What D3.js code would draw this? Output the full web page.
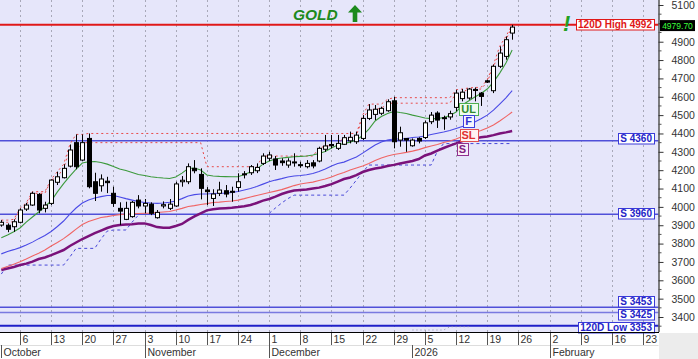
<!DOCTYPE html>
<html><head><meta charset="utf-8">
<script src="https://cdn.jsdelivr.net/npm/d3@7"></script>
<style>body{margin:0;background:#fff;}svg{display:block;font-family:"Liberation Sans",Arial,sans-serif;}</style>
</head><body><svg id="c" width="698" height="359"></svg>
<script>
// ---- DATA (daily, Oct 1 2025 .. Jan 23 2026, weekdays) ----
const openP = [3901,3900,3892,3916,3988,4010,4068,3992,4019,4134,
4159,4222,4350,4255,4373,4137,4115,4140,4074,3992,
3932,3947,4037,4005,4015,3941,4005,3992,4005,4137,
4137,4210,4177,4092,4046,4074,4088,4085,4106,4180,
4186,4197,4237,4265,4261,4250,4228,4241,4230,4219,
4240,4250,4314,4340,4319,4341,4360,4355,4373,4482,
4504,4510,4524,4578,4364,4373,4333,4373,4378,4464,
4511,4486,4490,4542,4590,4593,4640,4620,4687,4633,
4766,4820,4947];
const highP = [3928,3910,3932,3992,4022,4083,4075,4028,4150,4192,
4232,4340,4395,4395,4400,4186,4177,4164,4110,4025,
4028,4032,4064,4043,4025,3983,4030,4043,4137,4168,
4237,4255,4210,4108,4096,4137,4119,4110,4183,4195,
4228,4237,4292,4300,4277,4265,4265,4292,4246,4255,
4255,4328,4392,4392,4392,4392,4410,4410,4500,4560,
4555,4546,4586,4600,4437,4375,4373,4379,4470,4517,
4521,4497,4524,4638,4642,4648,4651,4626,4693,4775,
4875,4929,4992];
const lowP = [3892,3862,3864,3910,3978,4005,3965,3970,4010,4119,
4155,4215,4205,4250,4101,4032,4083,4075,4000,3901,
3928,3941,3992,3965,3955,3936,3992,3983,4000,4110,
4124,4183,4041,4010,4005,4059,4052,4028,4083,4155,
4174,4184,4228,4250,4201,4224,4213,4219,4213,4210,
4210,4243,4300,4319,4310,4337,4346,4343,4364,4473,
4473,4500,4518,4319,4328,4300,4328,4346,4370,4451,
4430,4420,4475,4521,4575,4584,4575,4550,4675,4620,
4757,4802,4911];
const closeP = [3916,3878,3919,3983,4010,4074,3983,4010,4146,4164,
4210,4310,4219,4350,4110,4074,4152,4132,4019,3977,
3992,4025,4005,4019,3965,3970,4012,4015,4125,4145,
4219,4197,4101,4083,4070,4092,4070,4080,4137,4175,
4219,4215,4277,4283,4228,4241,4250,4245,4226,4237,
4223,4319,4332,4333,4346,4377,4379,4391,4482,4528,
4532,4537,4573,4355,4404,4364,4364,4359,4458,4500,
4473,4481,4508,4620,4625,4642,4634,4602,4680,4766,
4838,4911,4979.7];
const ulLine = [3832,3847,3865,3885,3917,3945,3972,4002,4032,4082,
4127,4168,4206,4239,4246,4247,4242,4233,4220,4206,
4198,4187,4176,4171,4164,4160,4157,4155,4163,4184,
4209,4212,4201,4174,4168,4166,4165,4164,4164,4176,
4190,4206,4233,4250,4261,4266,4270,4273,4275,4277,
4283,4291,4302,4321,4337,4345,4353,4364,4389,4424,
4468,4492,4509,4520,4514,4509,4500,4492,4484,4481,
4481,4487,4498,4517,4555,4577,4599,4618,4642,4680,
4729,4784,4855];
const fLine = [3744,3757,3767,3778,3792,3808,3827,3844,3866,3893,
3923,3961,3994,4021,4037,4048,4056,4062,4062,4054,
4045,4037,4029,4024,4021,4019,4021,4025,4032,4045,
4059,4067,4070,4070,4073,4074,4075,4078,4084,4092,
4100,4111,4124,4137,4146,4154,4163,4168,4171,4175,
4182,4193,4206,4223,4236,4244,4258,4272,4293,4315,
4337,4353,4364,4370,4370,4372,4378,4381,4386,4394,
4401,4408,4416,4427,4438,4449,4462,4480,4500,4527,
4560,4594,4633];
const slLine = [3664,3675,3688,3701,3716,3732,3748,3765,3787,3806,
3827,3852,3879,3904,3920,3931,3942,3947,3953,3958,
3961,3962,3964,3965,3966,3969,3972,3975,3983,3992,
4002,4007,4013,4018,4024,4026,4029,4032,4037,4045,
4054,4062,4070,4078,4086,4094,4105,4116,4125,4130,
4135,4144,4152,4163,4176,4187,4201,4212,4223,4236,
4253,4266,4277,4285,4291,4297,4304,4312,4323,4332,
4340,4351,4359,4370,4383,4394,4405,4416,4430,4446,
4468,4492,4517];
const sLine = [3656,3664,3672,3683,3691,3702,3716,3724,3737,3751,
3765,3787,3806,3825,3841,3857,3871,3885,3896,3901,
3904,3906,3909,3910,3901,3890,3886,3886,3896,3907,
3929,3948,3965,3981,3987,3991,3993,3995,3999,4004,
4010,4021,4034,4043,4056,4070,4081,4089,4092,4095,
4100,4105,4114,4124,4138,4152,4160,4173,4190,4201,
4209,4215,4223,4229,4236,4243,4250,4261,4280,4291,
4307,4321,4334,4346,4359,4367,4372,4379,4384,4391,
4400,4406,4413];
const stopLine = [3634,3683,3683,3683,3683,3683,3683,3683,3683,3683,
3683,3727,3774,3774,3774,3774,3825,3868,3874,3874,
3874,3917,3955,null,null,null,null,null,null,null,
null,null,null,null,null,null,null,null,null,null,
null,null,null,3965,3994,4021,4045,4064,4064,4064,
4064,4064,4064,4064,4064,4064,4103,4146,4190,4228,
4228,4228,4228,4228,4228,4228,4228,4228,4228,4228,
4304,4345,4345,4345,4345,4345,4345,4345,4345,4345,
4345,4345,4345];
const hiClose = [3916,3916,3919,3983,4010,4074,4074,4074,4146,4164,
4210,4310,4310,4350,4350,4350,4350,4350,4350,4350,
4350,4350,4350,4350,4350,4350,4350,4350,4350,4350,
4350,4350,4350,4219,4219,4219,4219,4219,4219,4219,
4219,4219,4277,4277,4277,4277,4277,4277,4277,4277,
4277,4319,4332,4333,4346,4377,4379,4391,4482,4528,
4532,4537,4565,4565,4565,4565,4565,4565,4565,4565,
4565,4565,4565,4620,4625,4642,4642,4642,4680,4766,
4838,4911,4979.7];
const hiHigh = [3928,3928,3932,3992,4022,4083,4083,4083,4150,4192,
4232,4340,4395,4395,4400,4400,4400,4400,4400,4400,
4400,4400,4400,4400,4400,4400,4400,4400,4400,4400,
4400,4400,4400,4400,4400,4400,4400,4400,4400,4400,
4400,4400,4400,4400,4400,4400,4400,4400,4400,4400,
4400,4400,4400,4400,4400,4400,4400,4400,4500,4560,
4560,4560,4586,4595,4595,4595,4595,4595,4595,4595,
4595,4595,4595,4638,4642,4648,4651,4651,4693,4775,
4875,4929,4992];
const lowTrail = [null,null,null,null,null,null,null,null,null,null,
null,null,null,null,null,null,null,null,null,null,
null,null,null,null,null,null,null,null,null,null,
null,null,null,null,null,null,null,null,null,null,
null,null,null,null,null,null,null,null,null,null,
null,null,null,null,null,null,null,null,null,null,
null,null,null,null,null,null,3329,3329,3329,3329,
3329,3329,3347,3347,3347,3347,null,null,null,null,
null,null,null];
const levelValues = [4992, 4360, 3960, 3453, 3425, 3353];
const levelLabels = ["120D High 4992", "S 4360", "S 3960", "S 3453", "S 3425", "120D Low 3353"];
const yTickValues = [3400,3500,3600,3700,3800,3900,4000,4100,4200,4300,4400,4500,4600,4700,4800,4900,5000,5100];
const weekLabels = ["6","13","20","27","3","10","17","24","1","8","15","22","29","5","12","19","26","2","9","16","23"];
const monthLabels = ["October","November","December","2026","February"];
const monthStartIdx = [0, 23, 43, 66, 88];
const firstMondayIdx = 3;
const lastPrice = 4979.70;
const title = "GOLD";
const lineNames = ["UL","F","SL","S"];

// ---- LAYOUT ----
const W = 698, H = 359, plotR = 658.5, plotB = 332;
const x = d3.scaleLinear().domain([-0.21, 105.41]).range([0, 658]);
const y = d3.scaleLinear().domain([3318.3, 5121.8]).range([332, 1]);
const svg = d3.select("#c");
svg.append("rect").attr("width", W).attr("height", H).attr("fill", "#fff");
svg.append("rect").attr("x", 659).attr("y", 333).attr("width", 39).attr("height", 26).attr("fill", "#ececec");
svg.append("rect").attr("x", 0).attr("y", 0).attr("width", plotR).attr("height", plotB).attr("fill", "#e6e6fa");
svg.append("clipPath").attr("id", "clip").append("rect").attr("width", plotR).attr("height", plotB);
const g = svg.append("g").attr("clip-path", "url(#clip)");
const idx = d3.range(openP.length);
const px = i => Math.round(x(i)) + 0.5;

// weekly grid
const mondays = weekLabels.map((_, k) => firstMondayIdx + 5 * k);
g.selectAll("line.grid").data(mondays).join("line")
  .attr("x1", px).attr("x2", px).attr("y1", 0).attr("y2", plotB)
  .attr("stroke", "#a8a8b8").attr("stroke-dasharray", "2,3");

// horizontal levels
const levelStroke = ["#e01818", "#5050d8", "#5050d8", "#5050d8", "#7a7ae0", "#2020c8"];
const levelWidth = [2, 1.5, 1.5, 1.5, 1.5, 2];
levelValues.forEach((v, k) => {
  g.append("line").attr("x1", 0).attr("x2", plotR).attr("y1", y(v)).attr("y2", y(v))
    .attr("stroke", levelStroke[k]).attr("stroke-width", levelWidth[k]);
});

const line = arr => d3.line().defined(i => arr[i] != null).x(i => x(i)).y(i => y(arr[i]))(idx);
const addLine = (arr, color, w, dash) => {
  const p = g.append("path").attr("d", line(arr)).attr("fill", "none").attr("stroke", color).attr("stroke-width", w);
  if (dash) p.attr("stroke-dasharray", dash);
};
addLine(lowTrail, "#9090a8", 1, "1,3");
addLine(stopLine, "#4646d8", 1, "3,3");
addLine(hiHigh, "#e84a4a", 1, "2,3");
addLine(hiClose, "#e84a4a", 1, "2,3");
addLine(sLine, "#7a127a", 2.5);
addLine(slLine, "#f06464", 1.1);
addLine(fLine, "#4a4ae6", 1.1);
addLine(ulLine, "#3c9a3c", 1.1);

// candles
g.selectAll("line.wick").data(idx).join("line")
  .attr("x1", px).attr("x2", px).attr("y1", i => y(highP[i])).attr("y2", i => y(lowP[i]))
  .attr("stroke", "#000").attr("stroke-width", 1);
g.selectAll("rect.body").data(idx).join("rect")
  .attr("x", i => Math.round(x(i)) - 1.5)
  .attr("width", 4)
  .attr("y", i => y(Math.max(openP[i], closeP[i])))
  .attr("height", i => Math.max(1, Math.abs(y(openP[i]) - y(closeP[i]))))
  .attr("fill", i => closeP[i] >= openP[i] ? "#fff" : "#000")
  .attr("stroke", "#000").attr("stroke-width", 1);

// indicator name boxes
const indArrays = [ulLine, fLine, slLine, sLine];
const indIdx = [75, 75, 75, 74];
const indDy = [8, -3.5, 0, 8];
const indStroke = ["#4caf50", "#4040e0", "#e05050", "#903090"];
const indFill = ["#eefcee", "#f6f6ff", "#fff2f2", "#f8eef8"];
const indText = ["#2e8b2e", "#3030d0", "#e03030", "#802080"];
lineNames.forEach((nm, k) => {
  const cx = x(indIdx[k]), cy = y(indArrays[k][indIdx[k]]) + indDy[k];
  const gg = svg.append("g");
  const t = gg.append("text").attr("x", cx).attr("y", cy).attr("text-anchor", "middle")
    .attr("dominant-baseline", "central").attr("font-size", 11).attr("font-weight", "bold")
    .attr("fill", indText[k]).text(nm);
  const b = t.node().getBBox();
  gg.insert("rect", "text").attr("x", Math.round(b.x - 2) + 0.5).attr("y", Math.round(cy - 6) + 0.5)
    .attr("width", Math.round(b.width + 4)).attr("height", 12)
    .attr("fill", indFill[k]).attr("stroke", indStroke[k]);
});

// level label boxes
const lvlDy = [0, -2, -1, -6, 2, 1.5];
const lvlText = ["#e01818", "#2424c8", "#2424c8", "#2424c8", "#2424c8", "#2424c8"];
levelValues.forEach((v, k) => {
  const cy = y(v) + lvlDy[k];
  const gg = svg.append("g");
  const t = gg.append("text").attr("x", 652).attr("y", cy).attr("text-anchor", "end")
    .attr("dominant-baseline", "central").attr("font-size", 10).attr("font-weight", "bold")
    .attr("fill", lvlText[k]).text(levelLabels[k]);
  const b = t.node().getBBox();
  gg.insert("rect", "text").attr("x", Math.round(b.x - 2) + 0.5).attr("y", Math.round(cy - 5.5) + 0.5)
    .attr("width", Math.round(b.width + 4)).attr("height", 10.5)
    .attr("fill", "#fff").attr("stroke", k === 0 ? "#e01818" : "#3a3ad8");
});

// right axis (5000 label hidden behind the last-price tag, as in the source)
const ax = svg.append("g").attr("transform", `translate(${plotR},0)`)
  .call(d3.axisRight(y).tickValues(yTickValues).tickSize(5).tickPadding(8)
    .tickFormat(d => d === 5000 ? "" : d3.format("d")(d)));
ax.select(".domain").attr("stroke", "#000").attr("d", `M0.5,0V${plotB}`);
ax.selectAll("text").attr("font-size", 10.5).attr("fill", "#333").attr("font-family", "Liberation Sans, Arial, sans-serif");
ax.selectAll(".tick line").attr("stroke", "#333");
const minor = d3.range(3350, 5150, 100);
svg.append("g").selectAll("line").data(minor).join("line")
  .attr("x1", plotR).attr("x2", plotR + 3).attr("y1", d => y(d)).attr("y2", d => y(d)).attr("stroke", "#555");

// last price tag
const tagY = y(lastPrice) - 1.5;
svg.append("rect").attr("x", 660).attr("y", tagY - 5.5).attr("width", 35).attr("height", 11).attr("fill", "#000");
svg.append("text").attr("x", 677.5).attr("y", tagY).attr("text-anchor", "middle").attr("dominant-baseline", "central")
  .attr("font-size", 8.5).attr("fill", "#3cff3c").text(lastPrice.toFixed(2));

// bottom axis
svg.append("line").attr("x1", 0).attr("x2", plotR + 0.5).attr("y1", plotB + 0.5).attr("y2", plotB + 0.5).attr("stroke", "#000");
svg.append("line").attr("x1", 0).attr("x2", plotR).attr("y1", 345.5).attr("y2", 345.5).attr("stroke", "#ddd");
svg.selectAll("line.wt").data(mondays).join("line")
  .attr("x1", px).attr("x2", px).attr("y1", 333).attr("y2", 345).attr("stroke", "#555");
svg.selectAll("text.wl").data(mondays).join("text")
  .attr("x", i => px(i) + 2).attr("y", 343).attr("font-size", 10.5).attr("fill", "#333")
  .text((_, k) => weekLabels[k]);
svg.selectAll("line.ms").data(monthStartIdx).join("line")
  .attr("x1", px).attr("x2", px).attr("y1", 345).attr("y2", 358).attr("stroke", "#555");
svg.selectAll("text.ml").data(monthStartIdx).join("text")
  .attr("x", i => px(i) + 2).attr("y", 356).attr("font-size", 10.5).attr("fill", "#333")
  .text((_, k) => monthLabels[k]);

// title
svg.append("text").attr("x", 293).attr("y", 19.5).attr("font-size", 15.5).attr("font-weight", "bold")
  .attr("font-style", "italic").attr("fill", "#1d8a1d").text(title);
svg.append("path").attr("d", "M348,12.5 L355,5 L362,12.5 L357.3,12.5 L357.3,22 L352.7,22 L352.7,12.5 Z").attr("fill", "#1d8a1d");
svg.append("text").attr("x", 563).attr("y", 31).attr("font-size", 22).attr("font-weight", "bold")
  .attr("font-style", "italic").attr("fill", "#22a022").text("!");
</script></body></html>
